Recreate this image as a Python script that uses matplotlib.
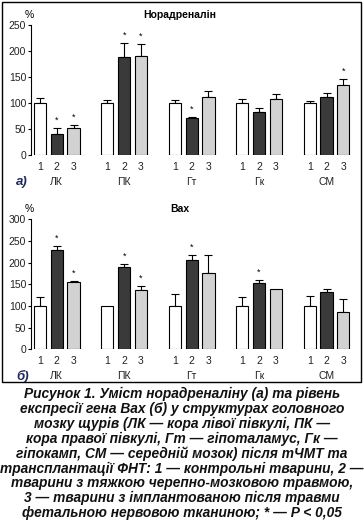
import numpy as np
import matplotlib
matplotlib.use("Agg")
import matplotlib.pyplot as plt
from matplotlib.patches import Rectangle

plt.rcParams['font.family'] = ['Liberation Sans', 'DejaVu Sans']

groups = ["ЛК", "ПК", "Гт", "Гк", "СМ"]
bar_labels = ["1", "2", "3"]

# Норадреналін, % (середнє, похибка вгору)
na_means = [[100, 40, 52], [100, 188, 190], [100, 71, 111], [100, 82, 107], [100, 111, 134]]
na_err = [[9, 11, 5], [6, 27, 23], [5, 1.5, 13], [8, 8, 10], [3, 9, 13]]
na_stars = [[0, 1, 1], [0, 1, 1], [0, 1, 0], [0, 0, 0], [0, 0, 1]]

# Bax, %
bax_means = [[100, 230, 156], [100, 191, 138], [100, 207, 175], [100, 154, 140], [100, 133, 87]]
bax_err = [[21, 9, 2], [0, 5, 9], [28, 11, 42], [21, 7, 0], [24, 6, 30]]
bax_stars = [[0, 1, 1], [0, 1, 1], [0, 1, 0], [0, 1, 0], [0, 0, 0]]

colors = ["white", "#3a3a3a", "#d2d2d2"]
W, H = 364, 520


def px_axes(fig, left, top, right, bottom):
    return fig.add_axes([left / W, 1 - bottom / H, (right - left) / W, (bottom - top) / H])


def panel(ax, means, errs, stars, ymax, title, letter):
    offs = np.array([-0.25, 0, 0.25])
    xs, lbls = [], []
    for g in range(len(groups)):
        for k in range(3):
            x = g + offs[k]
            m = means[g][k]
            e = errs[g][k]
            ax.bar(x, m, width=0.18, color=colors[k], edgecolor="black", linewidth=0.8, zorder=2)
            if e > 0:
                ax.errorbar(x, m, yerr=[[0], [e]], fmt="none", ecolor="black",
                            elinewidth=0.8, capsize=2.6, capthick=0.8, zorder=1)
            if stars[g][k]:
                ax.text(x, m + e + ymax * 0.025, "*", ha="center", va="bottom", fontsize=6.5)
            xs.append(x)
            lbls.append(bar_labels[k])
        ax.text(g, -ymax * 0.208, groups[g], ha="center", va="center", fontsize=7.5, color="#222222")
    ax.set_xticks(xs)
    ax.set_xticklabels(lbls, fontsize=7.5, color="#222222")
    ax.tick_params(axis="x", length=0, pad=5)
    ax.set_xlim(-0.38, 4.4)
    ax.set_ylim(0, ymax)
    ax.set_yticks(np.arange(0, ymax + 1, 50))
    ax.tick_params(axis="y", labelsize=7.5, length=2.5, width=0.8, pad=1, labelcolor="#222222")
    for s in ["top", "right", "bottom"]:
        ax.spines[s].set_visible(False)
    ax.spines["left"].set_linewidth(0.8)
    ax.text(-0.41, ymax * 1.08, "%", ha="center", va="center", fontsize=7.5)
    ax.text(1.83, ymax * 1.08, title, ha="center", va="center", fontsize=7.5, fontweight="bold")
    ax.text(-0.6, -ymax * 0.208, letter, ha="left", va="center", fontsize=9.5,
            fontweight="bold", fontstyle="italic", color="#1f2a5c")


fig = plt.figure(figsize=(W / 100, H / 100), dpi=100)

ax1 = px_axes(fig, 31, 25, 353.5, 155)
panel(ax1, na_means, na_err, na_stars, 250, "Норадреналін", "а)")

ax2 = px_axes(fig, 31, 219.3, 353.5, 349.3)
panel(ax2, bax_means, bax_err, bax_stars, 300, "Bax", "б)")

fig.patches.append(Rectangle((2 / W, 1 - 382 / H), 359 / W, 380 / H, transform=fig.transFigure,
                             fill=False, edgecolor="black", linewidth=1))

caption = ("Рисунок 1. Уміст норадреналіну (а) та рівень\n"
           "експресії гена Bax (б) у структурах головного\n"
           "мозку щурів (ЛК — кора лівої півкулі, ПК —\n"
           "кора правої півкулі, Гт — гіпоталамус, Гк —\n"
           "гіпокамп, СМ — середній мозок) після тЧМТ та\n"
           "трансплантації ФНТ: 1 — контрольні тварини, 2 —\n"
           "тварини з тяжкою черепно-мозковою травмою,\n"
           "3 — тварини з імплантованою після травми\n"
           "фетальною нервовою тканиною; * — P < 0,05")
fig.text(0.5, 1 - 453.5 / H, caption, ha="center", va="center", fontsize=9.9,
         fontweight="bold", fontstyle="italic", linespacing=1.06, color="#111111")

fig.savefig("out.png", dpi=100)
